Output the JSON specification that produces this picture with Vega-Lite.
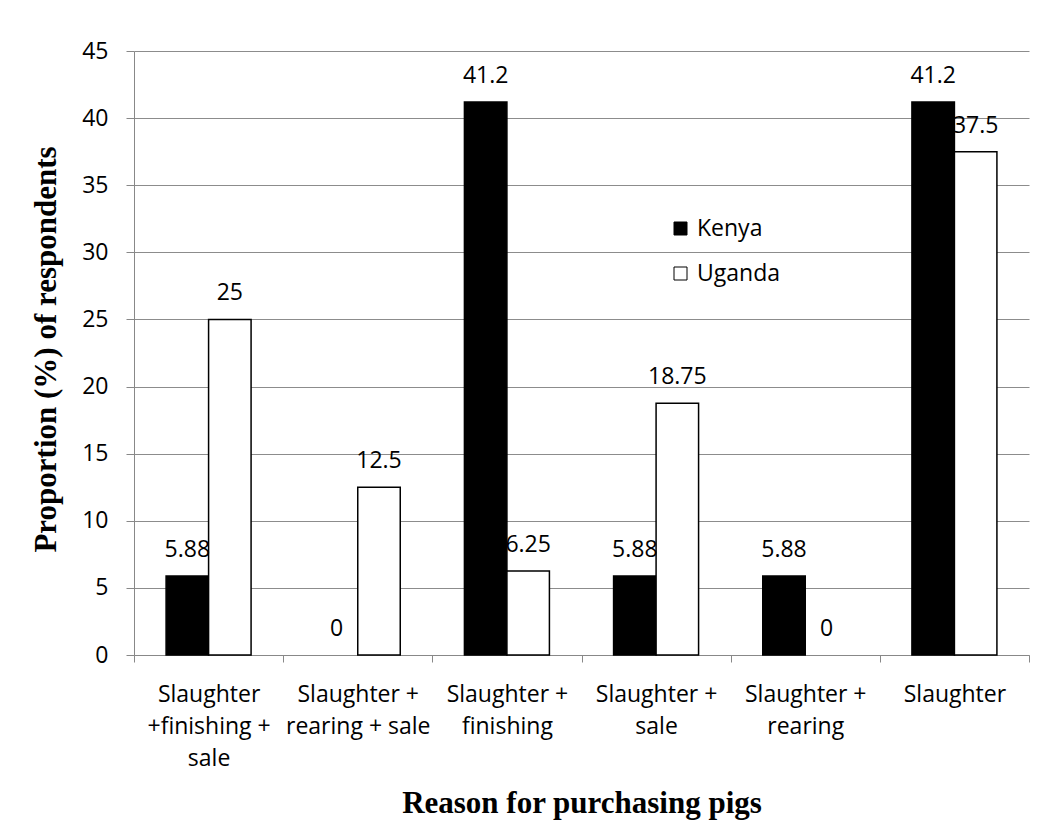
{
  "$schema": "https://vega.github.io/schema/vega-lite/v6.json",
  "autosize": "none",
  "padding": {"left": 134, "top": 51, "right": 26, "bottom": 166},
  "width": 895,
  "height": 604,
  "background": "white",
  "config": {
    "view": {"stroke": null},
    "font": "Open Sans",
    "axis": {"labelFont": "Open Sans", "labelColor": "#000", "titleFont": "Liberation Serif", "titleFontWeight": "bold", "titleColor": "#000"}
  },
  "data": {
    "values": [
      {"reason": "Slaughter|+finishing +|sale", "country": "Kenya", "value": 5.88},
      {"reason": "Slaughter|+finishing +|sale", "country": "Uganda", "value": 25},
      {"reason": "Slaughter +|rearing + sale", "country": "Kenya", "value": 0},
      {"reason": "Slaughter +|rearing + sale", "country": "Uganda", "value": 12.5},
      {"reason": "Slaughter +|finishing", "country": "Kenya", "value": 41.2},
      {"reason": "Slaughter +|finishing", "country": "Uganda", "value": 6.25},
      {"reason": "Slaughter +|sale", "country": "Kenya", "value": 5.88},
      {"reason": "Slaughter +|sale", "country": "Uganda", "value": 18.75},
      {"reason": "Slaughter +|rearing", "country": "Kenya", "value": 5.88},
      {"reason": "Slaughter +|rearing", "country": "Uganda", "value": 0},
      {"reason": "Slaughter", "country": "Kenya", "value": 41.2},
      {"reason": "Slaughter", "country": "Uganda", "value": 37.5}
    ]
  },
  "encoding": {
    "x": {
      "field": "reason", "type": "nominal", "sort": null,
      "scale": {"paddingInner": 0, "paddingOuter": 0},
      "axis": {
        "title": "Reason for purchasing pigs",
        "titleFontSize": 31,
        "titleBaseline": "alphabetic",
        "titleY": 157,
        "labelAngle": 0,
        "labelFontSize": 23,
        "labelLineHeight": 32,
        "labelPadding": 21,
        "labelBaseline": "top",
        "labelExpr": "split(datum.label, '|')",
        "tickBand": "extent",
        "tickSize": 7,
        "tickColor": "#888",
        "domainColor": "#888",
        "grid": false
      }
    },
    "xOffset": {
      "field": "country", "type": "nominal", "sort": ["Kenya", "Uganda"],
      "scale": {"paddingInner": 0, "paddingOuter": 0.755}
    },
    "y": {
      "field": "value", "type": "quantitative",
      "scale": {"domain": [0, 45], "nice": false},
      "axis": {
        "title": "Proportion (%) of respondents",
        "titleFontSize": 31,
        "titleBaseline": "alphabetic",
        "titleX": -79,
        "titleY": 298,
        "titleAnchor": "middle",
        "values": [0, 5, 10, 15, 20, 25, 30, 35, 40, 45],
        "labelFontSize": 23,
        "labelPadding": 18,
        "tickSize": 8,
        "tickColor": "#888",
        "domainColor": "#888",
        "gridColor": "#8c8c8c",
        "grid": true
      }
    }
  },
  "layer": [
    {
      "mark": {"type": "bar", "stroke": "black", "strokeWidth": 1.5},
      "encoding": {
        "fill": {
          "field": "country", "type": "nominal",
          "scale": {"domain": ["Kenya", "Uganda"], "range": ["black", "white"]},
          "legend": {
            "title": null,
            "orient": "none",
            "legendX": 535,
            "legendY": 166,
            "padding": 0,
            "symbolType": "square",
            "symbolSize": 169,
            "symbolStrokeColor": "black",
            "symbolStrokeWidth": 1,
            "labelFont": "Open Sans",
            "labelFontSize": 23,
            "labelColor": "#000",
            "labelOffset": 5,
            "rowPadding": 21
          }
        },
        "strokeOpacity": {"condition": {"test": "datum.value == 0", "value": 0}, "value": 1}
      }
    },
    {
      "mark": {"type": "text", "baseline": "alphabetic", "dy": -19, "fontSize": 23, "font": "Open Sans", "color": "#000"},
      "encoding": {
        "text": {"field": "value", "type": "nominal"}
      }
    }
  ]
}
